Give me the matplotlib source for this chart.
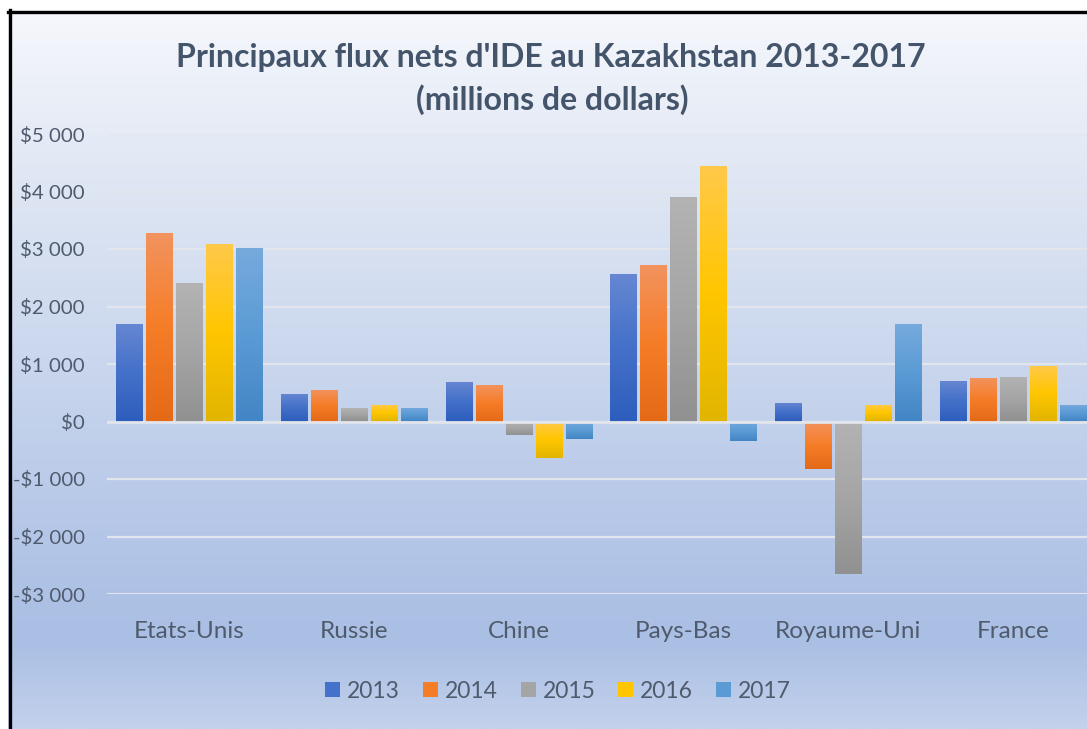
import numpy as np
import matplotlib
matplotlib.use("Agg")
import matplotlib.pyplot as plt
from matplotlib.colors import LinearSegmentedColormap
from matplotlib.patches import Patch

# ---- data ----
categories = ["Etats-Unis", "Russie", "Chine", "Pays-Bas", "Royaume-Uni", "France"]
years = ["2013", "2014", "2015", "2016", "2017"]
v2013 = [1700, 470, 690, 2560, 320, 710]
v2014 = [3270, 540, 630, 2730, -820, 750]
v2015 = [2410, 230, -230, 3900, -2650, 780]
v2016 = [3080, 290, -630, 4450, 290, 960]
v2017 = [3020, 230, -300, -340, 1690, 280]
series = [v2013, v2014, v2015, v2016, v2017]
yticks = [-3000, -2000, -1000, 0, 1000, 2000, 3000, 4000, 5000]
ytick_labels = ["-$3 000", "-$2 000", "-$1 000", "$0", "$1 000", "$2 000", "$3 000", "$4 000", "$5 000"]

# gradient stops (light top, base, dark bottom)
grad = [
    ("#6687d2", "#4471c9", "#2e5ebd"),
    ("#f2935f", "#f67d28", "#e46a17"),
    ("#b3b3b3", "#a5a5a5", "#919191"),
    ("#ffc94a", "#ffc600", "#e2b500"),
    ("#76aadd", "#5b9bd5", "#4386c5"),
]

W, H = 1087, 729
fig = plt.figure(figsize=(W / 100, H / 100), dpi=100)
fig.patch.set_facecolor("white")
FONT = ["Lato", "DejaVu Sans"]
TXT = "#44546a"
TICK = "#4f5b6d"

# ---- background gradient of the chart area ----
bx0, by_top = 8, 10
bg = fig.add_axes([bx0 / W, 0, 1 - bx0 / W, (H - by_top) / H], zorder=-5)
stops_px = [10, 200, 400, 600, 645, 729]
stops_col = ["#f5f7fc", "#dde5f3", "#c5d3ec", "#adc1e5", "#aabfe4", "#c3d1ec"]
pos = [(p - 10) / (729 - 10) for p in stops_px]
cmap_bg = LinearSegmentedColormap.from_list("bg", list(zip(pos, stops_col)))
bg.imshow(np.linspace(0, 1, 400).reshape(-1, 1), cmap=cmap_bg, aspect="auto",
          extent=[0, 1, 0, 1], origin="upper")
bg.set_axis_off()

# border lines (top and left)
fig.add_artist(plt.Line2D([bx0 / W, 1], [1 - 11.5 / H, 1 - 11.5 / H], color="black",
                          lw=2.4, transform=fig.transFigure, zorder=10))
fig.add_artist(plt.Line2D([9.5 / W, 9.5 / W], [0, 1 - 10 / H], color="black",
                          lw=2.4, transform=fig.transFigure, zorder=10))

# ---- main axes ----
left, right = 107, 1095
top, bottom = 134, 594
ax = fig.add_axes([left / W, 1 - bottom / H, (right - left) / W, (bottom - top) / H])
ax.patch.set_alpha(0)
for s in ax.spines.values():
    s.set_visible(False)

x = np.arange(len(categories))
step = 0.182
bw = 0.158
for i, vals in enumerate(series):
    offs = (i - 2) * step
    bars = ax.bar(x + offs, vals, width=bw, color=grad[i][1], zorder=2, linewidth=0)
    cm = LinearSegmentedColormap.from_list("g%d" % i, [grad[i][0], grad[i][1], grad[i][2]])
    for b in bars:
        x0, y0 = b.get_x(), b.get_y()
        w, h = b.get_width(), b.get_height()
        ylo, yhi = min(y0, y0 + h), max(y0, y0 + h)
        im = ax.imshow(np.linspace(0, 1, 100).reshape(-1, 1), cmap=cm, aspect="auto",
                       extent=[x0, x0 + w, ylo, yhi], origin="upper", zorder=2.1)
        im.set_clip_path(b)

ax.set_xlim(-0.5, len(categories) - 0.5)
ax.set_ylim(-3000, 5000)
ax.set_yticks(yticks)
ax.set_yticklabels(ytick_labels)
ax.set_xticks(x)
ax.set_xticklabels(categories)
ax.tick_params(axis="both", length=0, labelcolor=TICK)
ax.tick_params(axis="y", pad=16, labelsize=14.7)
ax.tick_params(axis="x", pad=19.5, labelsize=17.5)
for t in ax.get_xticklabels() + ax.get_yticklabels():
    t.set_family(FONT)
ax.set_axisbelow(True)
ax.yaxis.grid(True, color="#e2e5ec", lw=1.6, zorder=0)
ax.axhline(0, color="#e2e5ec", lw=2.0, zorder=3)

# ---- title ----
t1 = fig.text(551 / W, 1 - 58 / H, "Principaux flux nets d'IDE au Kazakhstan 2013-2017",
              ha="center", va="center", fontsize=22, fontweight="bold", color=TXT, family=FONT)
t2 = fig.text(552 / W, 1 - 100 / H, "(millions de dollars)",
              ha="center", va="center", fontsize=22, fontweight="bold", color=TXT, family=FONT)
fig.canvas.draw()
r = fig.canvas.get_renderer()
w1 = t1.get_window_extent(r).width
t1.set_fontsize(22 * 747 / w1)
t2.set_fontsize(22 * 747 / w1)

# ---- legend ----
handles = [Patch(facecolor=grad[i][1], edgecolor="none") for i in range(5)]
fig.legend(handles, years, loc="center", bbox_to_anchor=(558 / W, 1 - 691 / H), ncol=5,
           frameon=False, prop={"family": FONT, "size": 16.5}, labelcolor=TICK,
           handlelength=0.65, handleheight=0.65, handletextpad=0.3, columnspacing=1.0)

fig.savefig("out.png", dpi=100)
